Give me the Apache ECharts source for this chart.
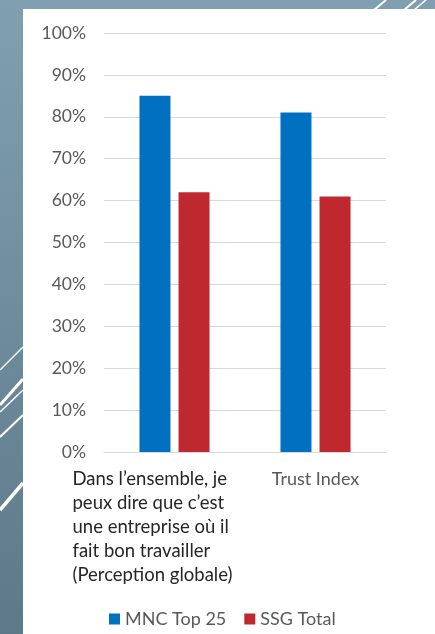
<!DOCTYPE html>
<html>
<head>
<meta charset="utf-8">
<script src="https://cdn.jsdelivr.net/npm/echarts@6/dist/echarts.min.js"></script>
<style>
  html, body { margin: 0; padding: 0; }
  #chart { width: 435px; height: 634px; }
</style>
</head>
<body>
<div id="chart"></div>
<script>
const categories = [
  'Dans l\u2019ensemble, je\npeux dire que c\u2019est\nune entreprise o\u00f9 il\nfait bon travailler\n(Perception globale)',
  'Trust Index'
]
const seriesNames = ['MNC Top 25', 'SSG Total']
const mncValues = [85, 81]
const ssgValues = [62, 61]
const yTicks = [0, 10, 20, 30, 40, 50, 60, 70, 80, 90, 100]

const font = 'Lato, "Open Sans", sans-serif'

// slide decoration stripes (background only)
function stripe(x1, y1, x2, y2, w) {
  return {
    type: 'line', silent: true, z: -9,
    shape: {x1, y1, x2, y2},
    style: {stroke: '#fff', lineWidth: w}
  }
}

const chart = echarts.init(document.getElementById('chart'))
chart.setOption({
  animation: false,
  textStyle: {fontFamily: font},
  graphic: [
    {
      type: 'rect', silent: true, z: -10,
      shape: {x: 0, y: 0, width: 435, height: 634},
      style: {
        fill: {
          type: 'linear', x: 0, y: 0, x2: 0, y2: 1,
          colorStops: [
            {offset: 0, color: '#80a0b2'},
            {offset: 1, color: '#5d7889'}
          ]
        }
      }
    },
    stripe(0, 370, 23, 347, 1.5),
    stripe(0, 405, 23, 379, 3),
    stripe(0, 412, 23, 390, 1.5),
    stripe(0, 437, 23, 415, 2),
    stripe(0, 510, 23, 483, 3.5),
    stripe(374, 10, 386, 0, 2),
    stripe(404, 10, 416, 0, 2),
    stripe(414, 10, 426, 0, 1.5),
    {
      type: 'rect', silent: true, z: -8,
      shape: {x: 23, y: 9, width: 412, height: 625},
      style: {fill: '#ffffff'}
    }
  ],
  grid: {left: 104, right: 49, top: 33, bottom: 182},
  legend: {
    data: seriesNames,
    left: 104,
    top: 605,
    icon: 'rect',
    itemWidth: 11,
    itemHeight: 11,
    itemGap: 18,
    textStyle: {color: '#595959', fontSize: 18, fontFamily: font}
  },
  xAxis: {
    type: 'category',
    data: categories,
    axisLine: {show: true, lineStyle: {color: '#d9d9d9', width: 1}},
    axisTick: {show: false},
    axisLabel: {
      interval: 0,
      margin: 15,
      align: 'center',
      verticalAlign: 'top',
      formatter: (v, i) => {
        if (i === 0) {
          return v.split('\n').map(s => '{a|' + s + '}').join('\n')
        }
        return '{b|' + v + '}'
      },
      rich: {
        a: {width: 204, align: 'left', color: '#262626', fontSize: 18.5, lineHeight: 24, fontFamily: font},
        b: {align: 'center', color: '#595959', fontSize: 18, lineHeight: 24, fontFamily: font}
      }
    }
  },
  yAxis: {
    type: 'value',
    min: yTicks[0],
    max: yTicks[yTicks.length - 1],
    interval: 10,
    axisLine: {show: false},
    axisTick: {show: false},
    splitLine: {lineStyle: {color: '#d9d9d9', width: 1}},
    axisLabel: {
      margin: 18,
      color: '#595959',
      fontSize: 17.5,
      fontFamily: font,
      formatter: v => v + '%'
    }
  },
  series: [
    {
      name: seriesNames[0],
      type: 'bar',
      data: mncValues,
      barWidth: 31,
      barGap: '26%',
      itemStyle: {color: '#0070c0'}
    },
    {
      name: seriesNames[1],
      type: 'bar',
      data: ssgValues,
      barWidth: 31,
      itemStyle: {color: '#c0282f'}
    }
  ]
})
window.addEventListener('resize', () => chart.resize())
</script>
</body>
</html>
